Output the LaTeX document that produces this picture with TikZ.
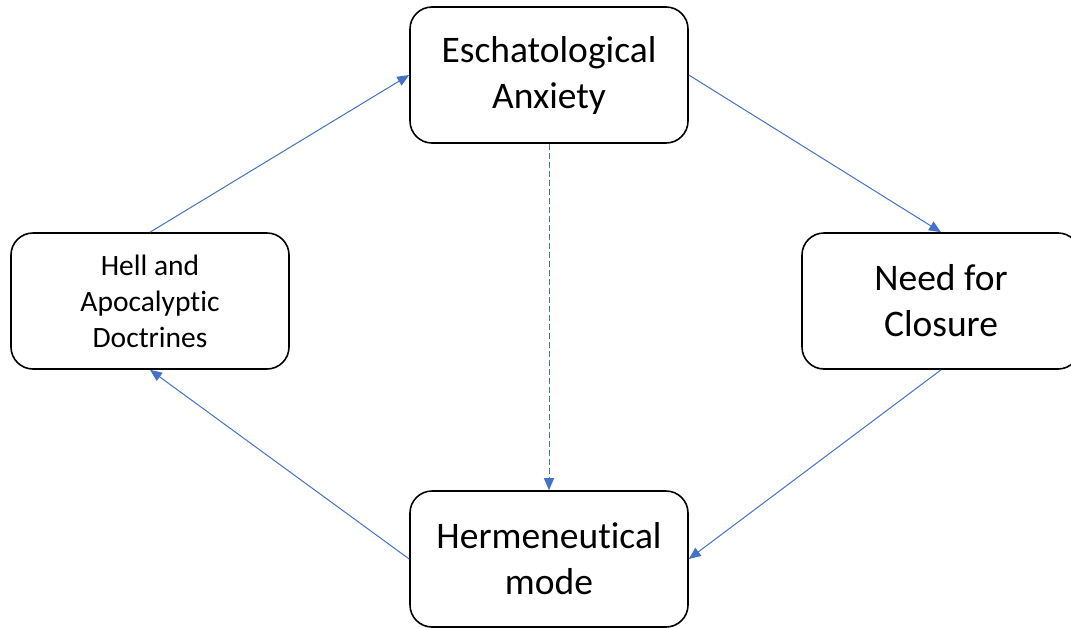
\documentclass[tikz,border=0pt]{standalone}
\usepackage{fontspec}
\setmainfont{Carlito}[Ligatures={NoCommon,NoRare,NoContextual},RawFeature={-liga;-clig;-dlig;-calt}]
\usetikzlibrary{positioning,arrows.meta}

\definecolor{linkblue}{RGB}{68,114,196}

\tikzset{
  box/.style={draw, line width=1.6pt, rounded corners=22pt, minimum width=278pt,
    minimum height=136pt, align=center, inner sep=0pt, fill=white},
  bigtext/.style={font=\fontsize{37.5}{46}\selectfont},
  smalltext/.style={font=\fontsize{29.5}{36}\selectfont},
  link/.style={draw=linkblue, line width=1pt, -{Triangle[length=12pt,width=10pt,fill=linkblue]}}
}

\begin{document}
\begin{tikzpicture}[x=1pt,y=-1pt]
\useasboundingbox (0,0) rectangle (1071,627);

\node[box, bigtext] (esch) at (549,75) {Eschatological\\Anxiety};
\node[box, smalltext] (hell) at (150,301) {Hell and\\Apocalyptic\\Doctrines};
\node[box, bigtext] (need) at (941,301) {Need for\\Closure};
\node[box, bigtext] (herm) at (549,559) {Hermeneutical\\mode};

\draw[link] (hell.north) -- (esch.west);
\draw[link] (esch.east) -- (need.north);
\draw[link] (need.south) -- (herm.east);
\draw[link] (herm.west) -- (hell.south);
\draw[link, dash pattern=on 6pt off 3pt] (esch.south) -- (herm.north);
\end{tikzpicture}
\end{document}
